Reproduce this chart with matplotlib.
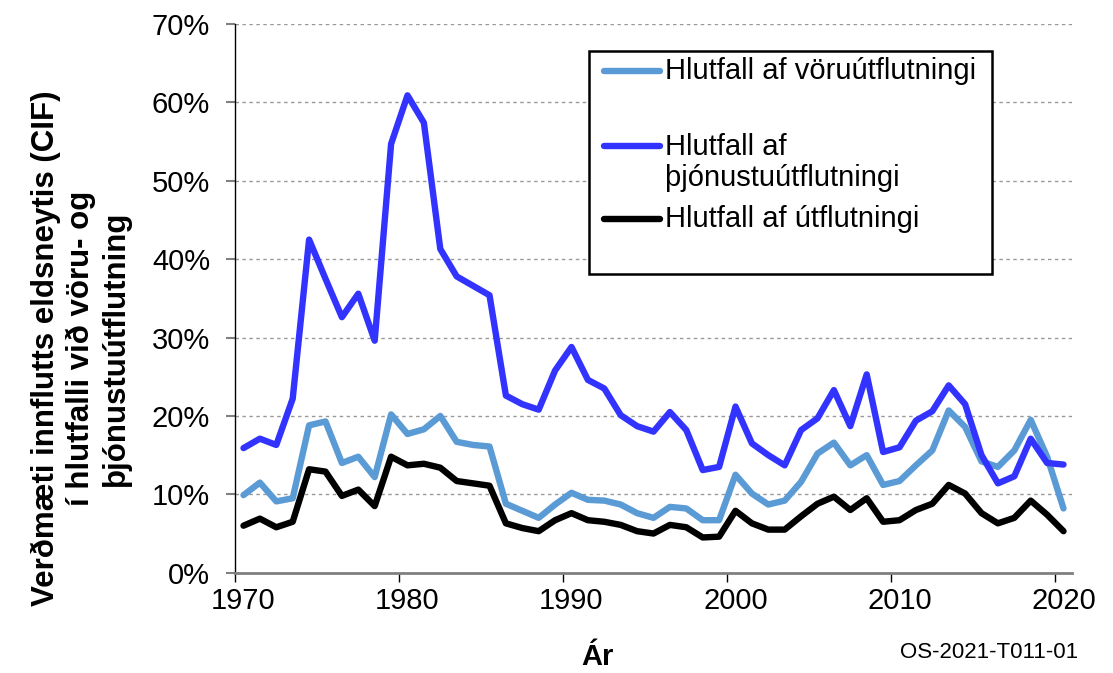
import matplotlib
matplotlib.use('Agg')
import matplotlib.pyplot as plt
from matplotlib.lines import Line2D
from matplotlib.patches import Rectangle

# ---------------- data ----------------
years = list(range(1970, 2021))

goods_share = [9.9, 11.5, 9.1, 9.5, 18.8, 19.3, 14.0, 14.8, 12.2, 20.2,
               17.7, 18.3, 20.0, 16.7, 16.3, 16.1, 8.8, 7.9, 7.0, 8.7,
               10.2, 9.3, 9.2, 8.7, 7.6, 7.0, 8.4, 8.2, 6.7, 6.7,
               12.5, 10.1, 8.7, 9.2, 11.6, 15.2, 16.6, 13.7, 15.0, 11.2,
               11.7, 13.7, 15.6, 20.7, 18.6, 14.2, 13.5, 15.6, 19.5, 14.8,
               8.2]

services_share = [15.9, 17.1, 16.3, 22.2, 42.5, 37.5, 32.6, 35.6, 29.6, 54.7,
                  60.9, 57.4, 41.3, 37.8, 36.6, 35.4, 22.6, 21.5, 20.8, 25.8,
                  28.8, 24.6, 23.5, 20.1, 18.7, 18.0, 20.5, 18.2, 13.1, 13.5,
                  21.2, 16.5, 15.0, 13.7, 18.2, 19.7, 23.3, 18.7, 25.3, 15.4,
                  16.0, 19.4, 20.6, 23.9, 21.5, 15.0, 11.4, 12.3, 17.1, 14.0,
                  13.8]

total_share = [6.0, 6.9, 5.8, 6.5, 13.2, 12.9, 9.8, 10.6, 8.5, 14.8,
               13.7, 13.9, 13.4, 11.7, 11.4, 11.1, 6.3, 5.7, 5.3, 6.7,
               7.6, 6.7, 6.5, 6.1, 5.3, 5.0, 6.1, 5.8, 4.5, 4.6,
               7.9, 6.3, 5.5, 5.5, 7.2, 8.8, 9.7, 8.0, 9.5, 6.5,
               6.7, 8.0, 8.8, 11.2, 10.1, 7.6, 6.3, 7.0, 9.2, 7.4,
               5.3]

series_labels = ["Hlutfall af vöruútflutningi",
                 "Hlutfall af\nþjónustuútflutningi",
                 "Hlutfall af útflutningi"]
series_colors = ["#5B9BD5", "#3333FF", "#000000"]

y_ticks = [0, 10, 20, 30, 40, 50, 60, 70]
x_major = [1970, 1980, 1990, 2000, 2010, 2020]

ylabel_text = "Verðmæti innflutts eldsneytis (CIF)\ní hlutfalli við vöru- og\nþjónustuútflutning"
xlabel_text = "Ár"
source_text = "OS-2021-T011-01"

# ---------------- figure ----------------
plt.rcParams['font.family'] = ['Liberation Sans', 'DejaVu Sans']

fig = plt.figure(figsize=(11.13, 6.73), dpi=100)
ax = fig.add_axes([0.2114, 0.149, 0.7515, 0.8153])

xpos = [y + 0.5 for y in years]  # category centres
for vals, col in zip([goods_share, services_share, total_share], series_colors):
    ax.plot(xpos, vals, color=col, lw=4.6, solid_joinstyle='round',
            solid_capstyle='round', zorder=3)

ax.set_xlim(1970, 2021)
ax.set_ylim(0, 70)

# y axis
ax.set_yticks(y_ticks)
ax.set_yticklabels([f"{v}%" for v in y_ticks])
ax.tick_params(axis='y', which='major', direction='out', length=6.2, width=1.5,
               color='#808080', pad=12, labelsize=21, labelcolor='black')
ax.yaxis.grid(True, linestyle=(0, (2.5, 2.5)), color='#999999', lw=1.0)
ax.set_axisbelow(True)

# x axis: ticks between categories, labels at category centres
ax.set_xticks(x_major)
ax.set_xticklabels([""] * len(x_major))
ax.set_xticks([v + 0.5 for v in x_major], minor=True)
ax.set_xticklabels([str(v) for v in x_major], minor=True)
ax.tick_params(axis='x', which='major', direction='out', length=6.5, width=1.0,
               color='black')
ax.tick_params(axis='x', which='minor', length=0, pad=10, labelsize=21)

for s in ['top', 'right']:
    ax.spines[s].set_visible(False)
ax.spines['left'].set_color('black')
ax.spines['left'].set_linewidth(1.0)
ax.spines['bottom'].set_color('#808080')
ax.spines['bottom'].set_linewidth(2.0)

# legend (manual, Excel style)
box = Rectangle((0.4233, 0.5444), 0.905 - 0.4233, 0.9508 - 0.5444,
                transform=ax.transAxes, facecolor='white', edgecolor='black',
                lw=1.8, zorder=5, clip_on=False)
ax.add_patch(box)
row_y = [0.9144, 0.7782, 0.6441]
text_y = [0.9144, 0.7472, 0.6441]
for lab, col, hy, ty in zip(series_labels, series_colors, row_y, text_y):
    ax.add_line(Line2D([0.4409, 0.5078], [hy, hy], transform=ax.transAxes,
                       color=col, lw=4.6, solid_capstyle='round', zorder=6,
                       clip_on=False))
    ax.text(0.5138, ty, lab, transform=ax.transAxes, ha='left', va='center',
            fontsize=21, zorder=6, linespacing=1.15)

# labels
fig.text(81 / 1113, 1 - 348 / 673, ylabel_text, rotation=90, ha='center',
         va='center', multialignment='center', fontsize=22.5, weight='bold',
         linespacing=1.2)
fig.text(597 / 1113, 1 - 657 / 673, xlabel_text, ha='center', va='center',
         fontsize=21, weight='bold')
fig.text(1078 / 1113, 1 - 652 / 673, source_text, ha='right', va='center',
         fontsize=16)

fig.savefig('out.png', dpi=100)
